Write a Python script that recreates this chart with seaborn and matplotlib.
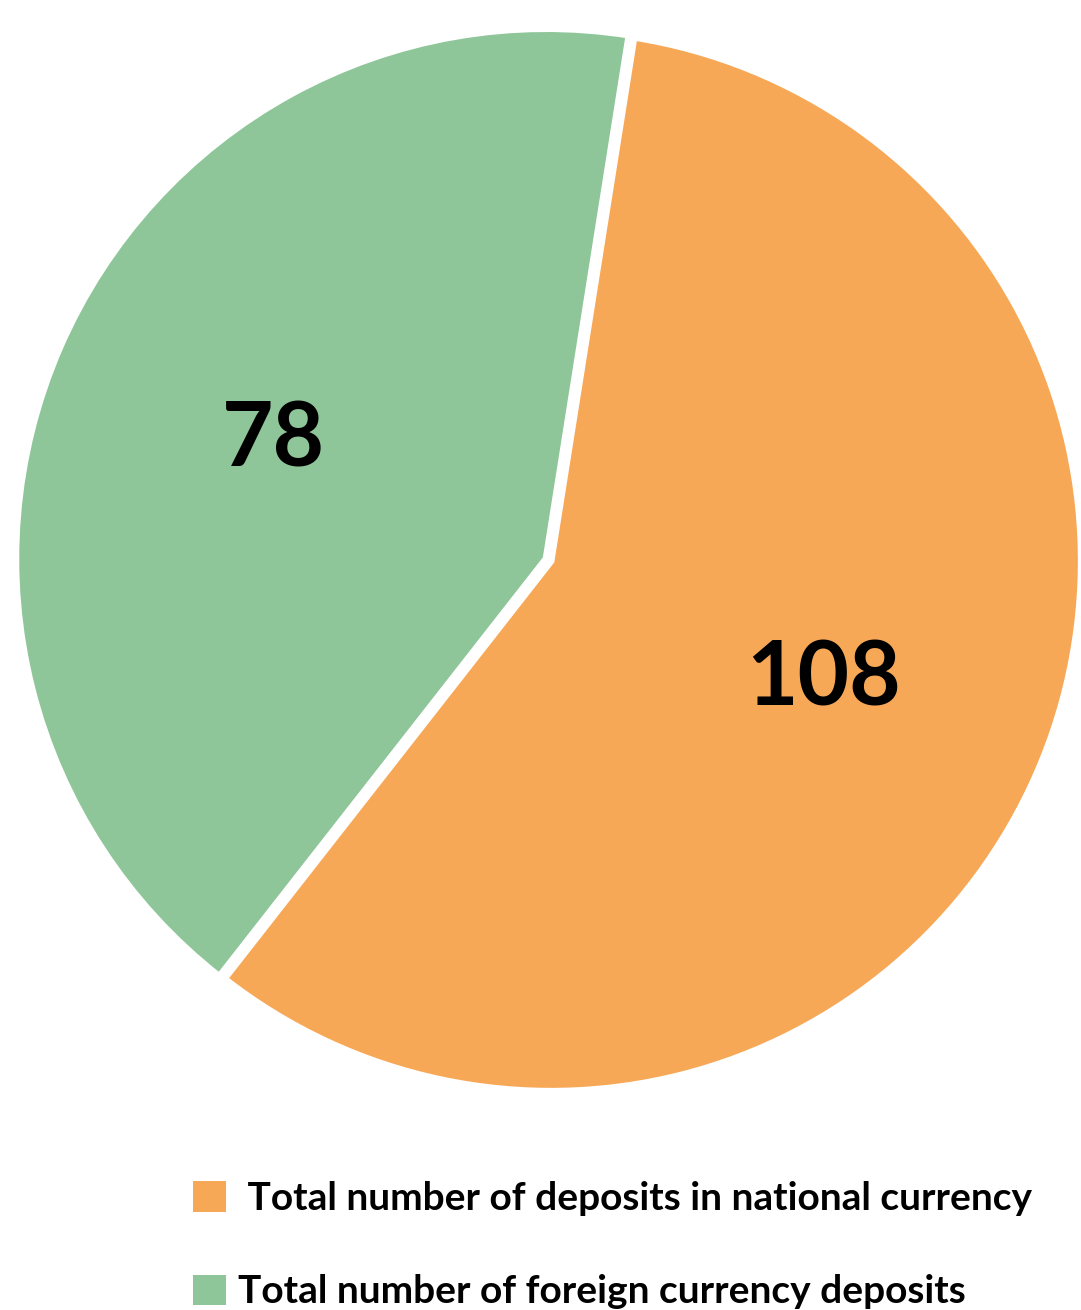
import seaborn as sns
import matplotlib.pyplot as plt
from matplotlib.patches import Patch

labels = [' Total number of deposits in national currency',
          'Total number of foreign currency deposits']
values = [108, 78]
colors = ['#F7A857', '#8FC699']

sns.set_theme(style='white')
plt.rcParams['font.family'] = ['Lato', 'DejaVu Sans']

fig = plt.figure(figsize=(10.81, 13.10), dpi=100)
ax = fig.add_axes([18 / 1081, 216 / 1310, 1066 / 1081, 1066 / 1310])

wedges, texts, autotexts = ax.pie(
    values, colors=colors, startangle=81, counterclock=False,
    explode=[0, 0.01], autopct=lambda p: '{:.0f}'.format(p * sum(values) / 100),
    pctdistance=0.56, radius=0.995,
    wedgeprops=dict(edgecolor='white', linewidth=5),
    textprops=dict(fontsize=64, fontweight='bold', color='black'))
ax.set_xlim(-1, 1)
ax.set_ylim(-1, 1)
ax.set_aspect('equal')
ax.axis('off')

handles = [Patch(facecolor=c, edgecolor='none') for c in colors]
leg = fig.legend(handles, labels, loc='upper left', bbox_to_anchor=(193 / 1081, 1 - 1181 / 1310),
                 frameon=False, prop=dict(size=28, weight='bold'),
                 handlelength=0.85, handleheight=0.82, handletextpad=0.3,
                 labelspacing=1.5, borderpad=0, borderaxespad=0)
for t in leg.get_texts():
    t.set_color('black')

fig.savefig('out.png', dpi=100, facecolor='white')
